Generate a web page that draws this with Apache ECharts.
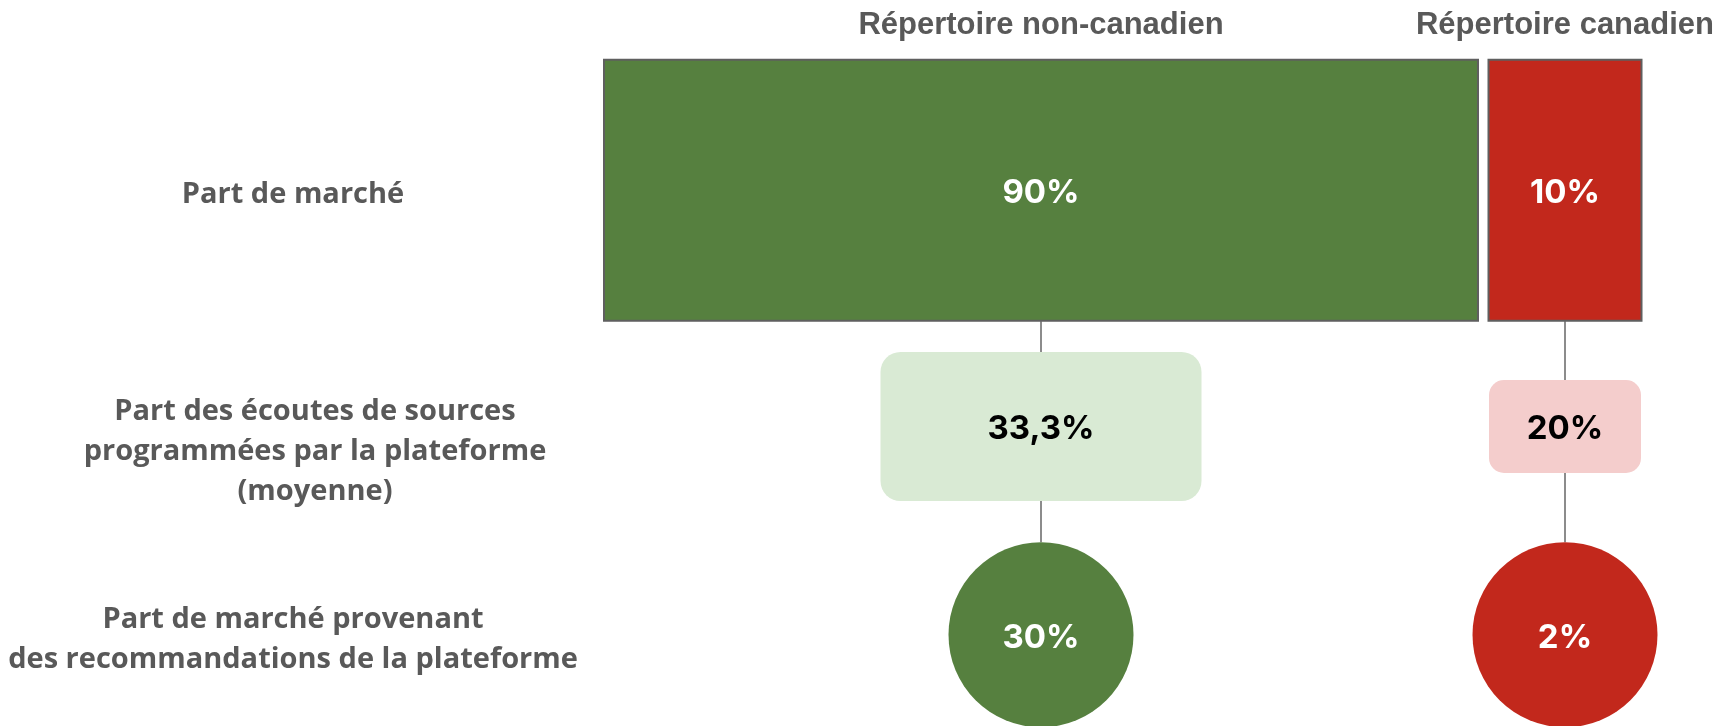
<!DOCTYPE html>
<html>
<head>
<meta charset="utf-8">
<script src="https://cdn.jsdelivr.net/npm/echarts@6/dist/echarts.min.js"></script>
<style>
  html, body { margin: 0; padding: 0; background: #fff; }
  #main { width: 1725px; height: 726px; }
</style>
</head>
<body>
<div id="main"></div>
<script>
// colonnes (répertoires) et lignes (indicateurs)
const columns = ['Répertoire non-canadien', 'Répertoire canadien'];
const rows = [
  'Part de marché',
  'Part des écoutes de sources\nprogrammées par la plateforme\n(moyenne)',
  'Part de marché provenant\ndes recommandations de la plateforme'
];
// valeurs en %, une liste par ligne, dans l'ordre des colonnes
const marketShare = [90, 10];
const programmedShare = [33.3, 20];
const recommendedShare = [30, 2];

// styles des formes par ligne / colonne
const fills = [
  ['#56803f', '#c2281c'],
  ['#d9ead4', '#f4cdcc'],
  ['#56803f', '#c2281c']
];
const textColors = [['#fff', '#fff'], ['#000', '#000'], ['#fff', '#fff']];
const shapeSizes = [
  [[874, 261], [153, 261]],
  [[321, 149], [152, 93]],
  [[185, 185], [185, 185]]
];
const rowShift = [0, 14, 0];

const values = [marketShare, programmedShare, recommendedShare];
const fmt = v => String(v).replace('.', ',') + '%';

let chartData = [];
values.forEach((list, r) => {
  list.forEach((v, c) => chartData.push([c, r, v]));
});

function cellBox(api, c, r) {
  const p = api.coord([c, r]);
  const s = shapeSizes[r][c];
  const cy = p[1] + rowShift[r];
  return {cx: p[0], cy: cy, w: s[0], h: s[1], top: cy - s[1] / 2, bottom: cy + s[1] / 2};
}

// libellé de la 2e ligne : décalé vers le bas et un peu à droite
function rowLabel(val, idx) {
  if (idx !== 1) return val;
  return '{gap| }\n{gap| }\n' + val.split('\n').map(l => '{mid|' + l + '}').join('\n');
}

let chart = echarts.init(document.getElementById('main'));
let option = {
  animation: false,
  grid: {left: 779, top: 79, width: 1048, height: 667, outerBoundsMode: 'none', containLabel: false},
  xAxis: {
    type: 'category',
    position: 'top',
    data: columns,
    axisLine: {show: false},
    axisTick: {show: false},
    splitLine: {show: false},
    axisLabel: {
      margin: 38,
      color: '#595959',
      fontFamily: 'Liberation Sans',
      fontWeight: 'bold',
      fontSize: 31
    }
  },
  yAxis: {
    type: 'category',
    inverse: true,
    data: rows,
    axisLine: {show: false},
    axisTick: {show: false},
    splitLine: {show: false},
    axisLabel: {
      margin: 486,
      align: 'center',
      padding: [10, 0, 0, 0],
      color: '#595959',
      fontFamily: 'Open Sans',
      fontWeight: 'bold',
      fontSize: 29,
      lineHeight: 40,
      formatter: rowLabel,
      rich: {
        gap: {lineHeight: 34},
        mid: {padding: [0, 0, 0, 44]}
      }
    }
  },
  series: [{
    type: 'custom',
    clip: false,
    data: chartData,
    encode: {x: 0, y: 1},
    renderItem: function (params, api) {
      const c = api.value(0);
      const r = api.value(1);
      const v = api.value(2);
      const b = cellBox(api, c, r);
      const children = [];
      if (r > 0) {
        const prev = cellBox(api, c, r - 1);
        children.push({
          type: 'line',
          shape: {x1: b.cx, y1: prev.bottom, x2: b.cx, y2: b.top},
          style: {stroke: '#666', lineWidth: 1.5}
        });
      }
      if (r === 0) {
        children.push({
          type: 'rect',
          shape: {x: b.cx - b.w / 2, y: b.top, width: b.w, height: b.h},
          style: {fill: fills[r][c], stroke: '#5f5f5f', lineWidth: 2}
        });
      } else if (r === 1) {
        children.push({
          type: 'rect',
          shape: {x: b.cx - b.w / 2, y: b.top, width: b.w, height: b.h, r: c === 0 ? 20 : 15},
          style: {fill: fills[r][c]}
        });
      } else {
        children.push({
          type: 'circle',
          shape: {cx: b.cx, cy: b.cy, r: b.w / 2},
          style: {fill: fills[r][c]}
        });
      }
      children.push({
        type: 'text',
        x: b.cx,
        y: b.cy + 3,
        style: {
          text: fmt(v),
          align: 'center',
          verticalAlign: 'middle',
          fill: textColors[r][c],
          fontFamily: 'Inter',
          fontWeight: 'bold',
          fontSize: 33
        }
      });
      return {type: 'group', children: children};
    }
  }]
};
chart.setOption(option);
</script>
</body>
</html>
